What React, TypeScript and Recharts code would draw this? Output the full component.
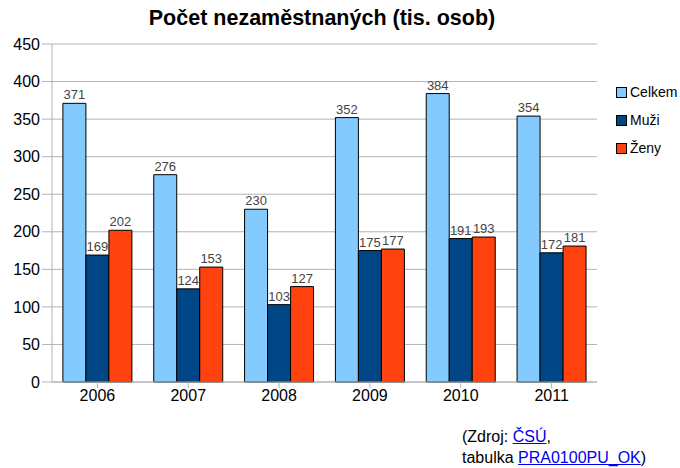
import React from "react";
import { Bar, BarChart, CartesianGrid, LabelList, XAxis, YAxis } from "recharts";

const years = ["2006", "2007", "2008", "2009", "2010", "2011"];
const celkem = [371, 276, 230, 352, 384, 354];
const muzi = [169, 124, 103, 175, 191, 172];
const zeny = [202, 153, 127, 177, 193, 181];
const yTicks = [0, 50, 100, 150, 200, 250, 300, 350, 400, 450];

const series = [
  { key: "celkem", name: "Celkem", color: "#83caff" },
  { key: "muzi", name: "Muži", color: "#004586" },
  { key: "zeny", name: "Ženy", color: "#ff420e" },
];

const data = years.map((year, i) => ({ year, celkem: celkem[i], muzi: muzi[i], zeny: zeny[i] }));

const font = '"Liberation Sans", Arial, sans-serif';
const axisGray = "#b3b3b3";

function LegendBox() {
  return (
    <div style={{ position: "absolute", left: 616, top: 78, fontSize: 14, color: "#000" }}>
      {series.map((s) => (
        <div key={s.key} style={{ display: "flex", alignItems: "center", height: 28 }}>
          <span style={{ width: 9, height: 9, background: s.color, border: "1px solid #000", marginRight: 3, display: "inline-block" }} />
          {s.name}
        </div>
      ))}
    </div>
  );
}

export default function App() {
  return (
    <div style={{ position: "absolute", left: 0, top: 0, width: 680, height: 468, background: "#fff", fontFamily: font }}>
      <div style={{ position: "absolute", top: 6, left: 0, width: 644, textAlign: "center", fontSize: 21.5, fontWeight: "bold", color: "#000" }}>
        Počet nezaměstnaných (tis. osob)
      </div>
      <BarChart width={680} height={468} data={data} margin={{ top: 44, right: 83, bottom: 56, left: 0 }} barCategoryGap="12%" barGap={0}>
        <CartesianGrid vertical={false} stroke={axisGray} />
        <XAxis
          dataKey="year"
          stroke={axisGray}
          tickLine={{ stroke: axisGray }}
          tickSize={6}
          tick={{ fill: "#000", fontSize: 16, fontFamily: font }}
          height={30}
        />
        <YAxis
          domain={[0, 450]}
          ticks={yTicks}
          stroke={axisGray}
          tickLine={{ stroke: axisGray }}
          tickSize={10}
          width={52}
          tick={{ fill: "#000", fontSize: 16, fontFamily: font }}
        />
        <YAxis yAxisId="r" orientation="right" domain={[0, 450]} stroke={axisGray} tick={false} tickLine={false} width={0} />
        {series.map((s) => (
          <Bar key={s.key} dataKey={s.key} name={s.name} fill={s.color} stroke="#000" strokeWidth={1} isAnimationActive={false}>
            <LabelList dataKey={s.key} position="top" offset={4} fill="#444" fontSize={13} fontFamily={font} />
          </Bar>
        ))}
      </BarChart>
      <LegendBox />
      <div style={{ position: "absolute", left: 462, top: 426, fontSize: 16, lineHeight: "21px", color: "#000" }}>
        (Zdroj: <a href="#" style={{ color: "#0000ee" }}>ČSÚ</a>,
        <br />
        tabulka <a href="#" style={{ color: "#0000ee" }}>PRA0100PU_OK</a>)
      </div>
    </div>
  );
}
